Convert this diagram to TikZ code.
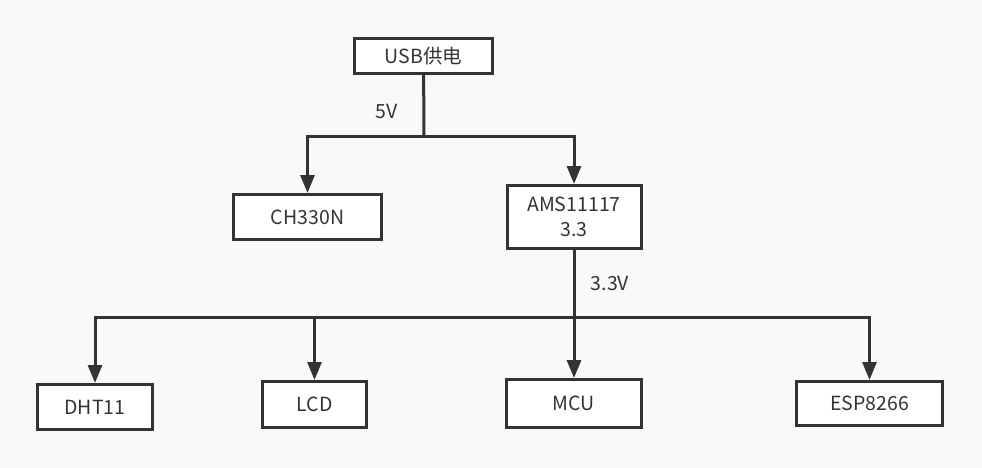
\documentclass[tikz,border=0pt]{standalone}
\usepackage{fontspec}
\setmainfont{Noto Sans CJK SC}
\usetikzlibrary{arrows.meta}
\definecolor{linegray}{HTML}{333333}
\definecolor{bggray}{HTML}{F9F9F9}

\begin{document}
\begin{tikzpicture}[x=1pt,y=-1pt,
  box/.style={draw=linegray,line width=3pt,fill=white,inner sep=0pt,align=center,
    font=\fontsize{19.5}{25}\selectfont,text=linegray},
  lbl/.style={font=\fontsize{19.5}{25}\selectfont,text=linegray},
  wire/.style={draw=linegray,line width=3pt},
  arr/.style={wire,-{Triangle[length=18pt,width=14pt]}}]
\fill[bggray] (0,0) rectangle (982,468);
\node[box,minimum width=138pt,minimum height=35pt] (usb) at (423.5,56) {USB供电};
\node[box,minimum width=148pt,minimum height=45pt] (ch) at (307.5,217) {CH330N};
\node[box,minimum width=134pt,minimum height=63pt] (ams) at (574,217) {AMS11117\\3.3};
\node[box,minimum width=115pt,minimum height=45pt] (dht) at (95,407) {DHT11};
\node[box,minimum width=104pt,minimum height=46pt] (lcd) at (314.5,404.5) {LCD};
\node[box,minimum width=135pt,minimum height=48pt] (mcu) at (574,403.5) {MCU};
\node[box,minimum width=146pt,minimum height=44pt] (esp) at (869.5,403.5) {ESP8266};
\node[lbl] (v5) at (387,111) {5V};
\node[lbl] (v33) at (610,283) {3.3V};
% 5V branch
\coordinate (j1) at (424,137);
\draw[wire] (usb) -- (j1);
\draw[arr] (j1) -| (ch);
\draw[arr] (j1) -| (ams);
% 3.3V branch
\coordinate (j2) at (574,317);
\draw[wire] (ams) -- (j2);
\draw[arr] (j2) -| (dht);
\draw[arr] (j2) -| (lcd);
\draw[arr] (j2) -- (mcu);
\draw[arr] (j2) -| (esp);
\end{tikzpicture}
\end{document}
